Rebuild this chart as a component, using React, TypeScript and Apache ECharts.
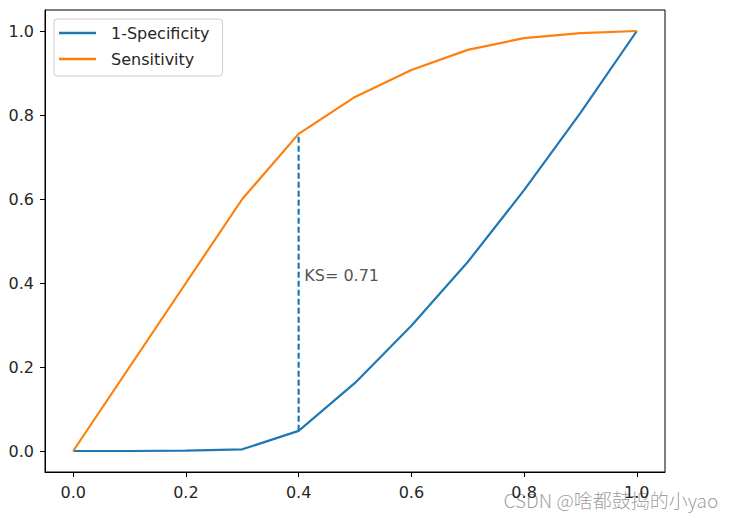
import React, { useEffect, useRef } from "react";
import * as echarts from "echarts";

const thresholds = [0, 0.1, 0.2, 0.3, 0.4, 0.5, 0.6, 0.7, 0.8, 0.9, 1.0];
const oneMinusSpecificity = [0, 0, 0.001, 0.004, 0.048, 0.162, 0.298, 0.45, 0.621, 0.805, 1.0];
const sensitivity = [0, 0.2, 0.4, 0.6, 0.755, 0.843, 0.907, 0.955, 0.983, 0.995, 1.0];
const tickValues = [0, 0.2, 0.4, 0.6, 0.8, 1.0];
const seriesNames = ["1-Specificity", "Sensitivity"];
const ksLabelPos = [0.41, 0.4];
const watermark = "CSDN @啥都鼓捣的小yao";

export default function App() {
  const ref = useRef<HTMLDivElement>(null);
  useEffect(() => {
    if (!ref.current) return;
    const chart = echarts.init(ref.current, undefined, { renderer: "svg" });
    let ksIdx = 0;
    let ks = -1;
    thresholds.forEach((_, i) => {
      const d = sensitivity[i] - oneMinusSpecificity[i];
      if (d > ks) {
        ks = d;
        ksIdx = i;
      }
    });
    const font = "DejaVu Sans";
    const textColor = "#262626";
    const axisCommon = {
      type: "value" as const,
      min: -0.05,
      max: 1.05,
      splitLine: { show: false },
      axisLine: { show: true, onZero: false, lineStyle: { color: "#000", width: 1 } },
      axisTick: {
        show: true,
        length: 5,
        customValues: tickValues,
        lineStyle: { color: "#000", width: 1 },
      },
    };
    chart.setOption({
      animation: false,
      backgroundColor: "#fff",
      grid: {
        left: 45,
        top: 10,
        right: 76,
        bottom: 48,
        show: true,
        borderColor: "#000",
        borderWidth: 1,
        backgroundColor: "transparent",
        containLabel: false,
        outerBoundsMode: "none",
      },
      legend: {
        data: seriesNames,
        orient: "vertical",
        left: 54,
        top: 19,
        icon: "rect",
        itemWidth: 37,
        itemHeight: 2.4,
        itemGap: 8,
        padding: [5, 13, 8, 5],
        backgroundColor: "#fff",
        borderColor: "#cccccc",
        borderWidth: 1,
        borderRadius: 3,
        textStyle: {
          fontFamily: font,
          fontSize: 16,
          lineHeight: 18,
          color: textColor,
          padding: [0, 0, 0, 10],
        },
      },
      xAxis: {
        ...axisCommon,
        axisLabel: {
          customValues: tickValues,
          formatter: (v: number) => v.toFixed(1),
          fontFamily: font,
          fontSize: 16,
          color: textColor,
          margin: 12,
        },
      },
      yAxis: {
        ...axisCommon,
        axisLabel: {
          customValues: tickValues,
          formatter: (v: number) => v.toFixed(1),
          fontFamily: font,
          fontSize: 16,
          color: textColor,
          margin: 11,
        },
      },
      series: [
        {
          name: seriesNames[0],
          type: "line",
          symbol: "none",
          data: thresholds.map((x, i) => [x, oneMinusSpecificity[i]]),
          lineStyle: { color: "#1f77b4", width: 2.2 },
          itemStyle: { color: "#1f77b4" },
        },
        {
          name: seriesNames[1],
          type: "line",
          symbol: "none",
          data: thresholds.map((x, i) => [x, sensitivity[i]]),
          lineStyle: { color: "#ff7f0e", width: 2.2 },
          itemStyle: { color: "#ff7f0e" },
        },
        {
          name: "ks",
          type: "line",
          symbol: "none",
          data: [
            [thresholds[ksIdx], oneMinusSpecificity[ksIdx]],
            [thresholds[ksIdx], sensitivity[ksIdx]],
          ],
          lineStyle: { color: "#1f77b4", width: 2.2, type: [6, 3] },
          z: 1,
        },
        {
          name: "ksLabel",
          type: "scatter",
          symbolSize: 0,
          data: [ksLabelPos],
          label: {
            show: true,
            position: [0, 0],
            align: "left",
            verticalAlign: "bottom",
            formatter: () => "KS= " + ks.toFixed(2),
            fontFamily: font,
            fontSize: 16,
            color: textColor,
          },
        },
      ],
      graphic: [
        {
          type: "text",
          left: 503,
          top: 489,
          style: {
            text: watermark,
            fontFamily: "Noto Sans CJK SC",
            fontSize: 19,
            fontWeight: 300,
            fill: "rgba(140,140,140,0.85)",
            stroke: "rgba(255,255,255,0.6)",
            lineWidth: 1,
          },
        },
      ],
    });
    return () => chart.dispose();
  }, []);
  return (
    <div
      ref={ref}
      style={{ position: "absolute", left: 0, top: 0, width: 741, height: 520 }}
    />
  );
}
